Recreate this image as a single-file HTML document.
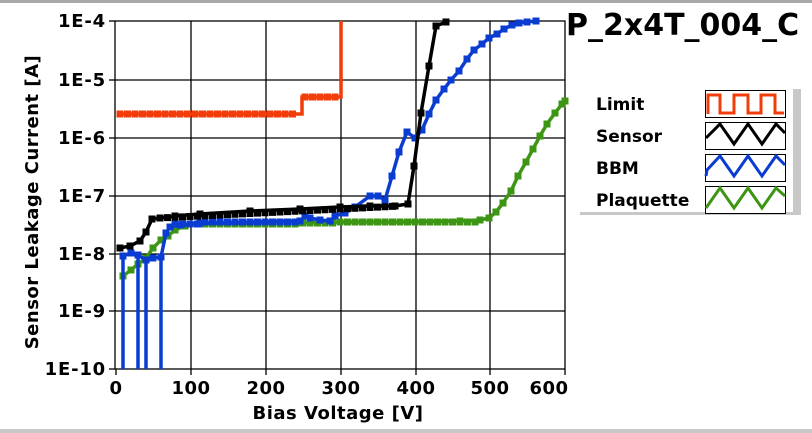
<!DOCTYPE html>
<html><head><style>
html,body{margin:0;padding:0;background:#fff;}
body{width:812px;height:433px;overflow:hidden;position:relative;font-family:"DejaVu Sans",sans-serif;}
</style></head><body>
<svg id="s" width="812" height="433" xmlns="http://www.w3.org/2000/svg" style="position:absolute;left:0;top:0" font-family="DejaVu Sans, sans-serif">
<rect x="0" y="0" width="812" height="3" fill="#a8a8a8"/>
<rect x="0" y="429" width="812" height="4" fill="#c8c8c8"/>
<g stroke="#000" stroke-width="1.3">
<line x1="191" y1="21" x2="191" y2="369"/><line x1="266" y1="21" x2="266" y2="369"/>
<line x1="341" y1="21" x2="341" y2="369"/><line x1="416" y1="21" x2="416" y2="369"/>
<line x1="490" y1="21" x2="490" y2="369"/>
<line x1="115" y1="80" x2="565" y2="80"/><line x1="115" y1="138" x2="565" y2="138"/>
<line x1="115" y1="196" x2="565" y2="196"/><line x1="115" y1="254" x2="565" y2="254"/>
<line x1="115" y1="311" x2="565" y2="311"/>
<rect x="115" y="21" width="450" height="348" fill="none"/>
<line x1="109" y1="21" x2="115" y2="21"/><line x1="109" y1="80" x2="115" y2="80"/><line x1="109" y1="138" x2="115" y2="138"/><line x1="109" y1="196" x2="115" y2="196"/><line x1="109" y1="254" x2="115" y2="254"/><line x1="109" y1="311" x2="115" y2="311"/><line x1="109" y1="369" x2="115" y2="369"/>
<line x1="116" y1="369" x2="116" y2="375"/><line x1="191" y1="369" x2="191" y2="375"/><line x1="266" y1="369" x2="266" y2="375"/><line x1="341" y1="369" x2="341" y2="375"/><line x1="416" y1="369" x2="416" y2="375"/><line x1="490" y1="369" x2="490" y2="375"/><line x1="565" y1="369" x2="565" y2="375"/>
</g>
<g id="data"></g>
<g font-weight="bold" font-size="18" fill="#000" text-anchor="end" letter-spacing="0.8">
<text x="106" y="27">1E-4</text><text x="106" y="86">1E-5</text><text x="106" y="144">1E-6</text><text x="106" y="202">1E-7</text><text x="106" y="260">1E-8</text><text x="106" y="317">1E-9</text><text x="106" y="375">1E-10</text>
</g>
<g font-weight="bold" font-size="18" fill="#000" text-anchor="middle" letter-spacing="0.5">
<text x="116" y="394">0</text><text x="191" y="394">100</text><text x="266" y="394">200</text><text x="341" y="394">300</text><text x="416" y="394">400</text><text x="490" y="394">500</text><text x="549" y="394">600</text>
<text x="338" y="419">Bias Voltage [V]</text>
<text transform="translate(38,202) rotate(-90)">Sensor Leakage Current [A]</text>
</g>
<text x="566" y="35" font-weight="bold" font-size="30" fill="#000">P_2x4T_004_C</text>
<rect x="793" y="89" width="8" height="126" fill="#c8c8c8"/>
<rect x="580" y="212" width="220" height="3" fill="#c8c8c8"/>
<g font-weight="bold" font-size="17" fill="#000">
<text x="596" y="110">Limit</text><text x="596" y="142">Sensor</text><text x="596" y="174">BBM</text><text x="596" y="206">Plaquette</text>
</g>
<g stroke="#000" stroke-width="1" fill="#fff">
<rect x="705.5" y="90.5" width="80" height="27"/><rect x="705.5" y="122.5" width="80" height="27"/>
<rect x="705.5" y="154.5" width="80" height="27"/><rect x="705.5" y="186.5" width="80" height="27"/>
</g>
<g fill="none" stroke-width="3">
<polyline stroke="#f23c0a" points="708,114 708,95 720,95 720,113 734,113 734,95 748,95 748,113 761,113 761,95 775,95 775,113 784,113"/>
<polyline stroke="#000" points="706,138 720,124 734,144 748,124 762,144 776,124 785,133"/>
<polyline stroke="#0a3cd2" points="706,176 707,170 720,156 734,176 748,156 762,176 776,156 785,165"/>
<polyline stroke="#3c9614" points="706,208 720,188 734,208 748,188 762,208 776,188 785,196"/>
</g>
</svg>
<script>
var g=document.getElementById('data');
function ser(c,p,mk){var s='';for(var i=0;i<p.length;i+=2)s+=p[i]+','+p[i+1]+' ';
var h='<polyline fill="none" stroke="'+c+'" stroke-width="3.5" points="'+s+'"/>';
mk.forEach(function(m){h+='<rect x="'+(m[0]-3.5)+'" y="'+(m[1]-3.5)+'" width="7" height="7" fill="'+c+'"/>';});
g.insertAdjacentHTML('beforeend',h);}
var lm=[];for(var x=120;x<=296;x+=7.5)lm.push([x,114]);for(var x=305;x<=340;x+=7.5)lm.push([x,97]);
ser('#f23c0a',[120,114,302,114,302,97,341,97,341,21],lm);
var gp=[123,276,131,270,138,264,146,258,153,248,161,240,168,236,175,230,185,226,200,224,250,224,300,223,340,222,400,222,460,221,480,220,489,218,496,212,503,203,511,191,518,176,526,162,533,149,540,136,547,124,555,113,562,104,565,101];
var gm=[];for(var i=0;i<gp.length;i+=2)gm.push([gp[i],gp[i+1]]);for(var x=190;x<480;x+=7.5)gm.push([x,x<300?224:(x<340?223:222)]);
ser('#3c9614',gp,gm);
var bp=[123,369,123,256,131,253,138,255,138,369,138,255,146,260,146,369,146,260,153,258,161,257,161,369,161,257,166,233,170,227,180,225,200,223,250,222,300,221,305,216,310,218,320,220,330,221,335,216,345,213,355,207,370,196,378,196,385,200,392,176,399,152,407,132,415,138,422,130,429,114,436,100,444,89,451,80,459,71,467,59,474,50,482,44,489,38,497,34,504,29,512,25,519,23,527,22,536,21];
var bm=[];for(var i=0;i<bp.length;i+=2)if(bp[i+1]<369)bm.push([bp[i],bp[i+1]]);for(var x=175;x<300;x+=7.5)bm.push([x,x<200?224:222]);
ser('#0a3cd2',bp,bm);
var kp=[120,248,130,246,140,241,146,232,152,219,160,218,175,216,200,214,250,211,300,209,340,207,370,206,395,206,408,204,414,166,421,113,429,66,436,26,446,22];
var km=[];for(var i=0;i<kp.length;i+=2)km.push([kp[i],kp[i+1]]);for(var x=160;x<400;x+=7.5)km.push([x,218-(x-160)*12/240]);
ser('#000',kp,km);
</script>
</body></html>
